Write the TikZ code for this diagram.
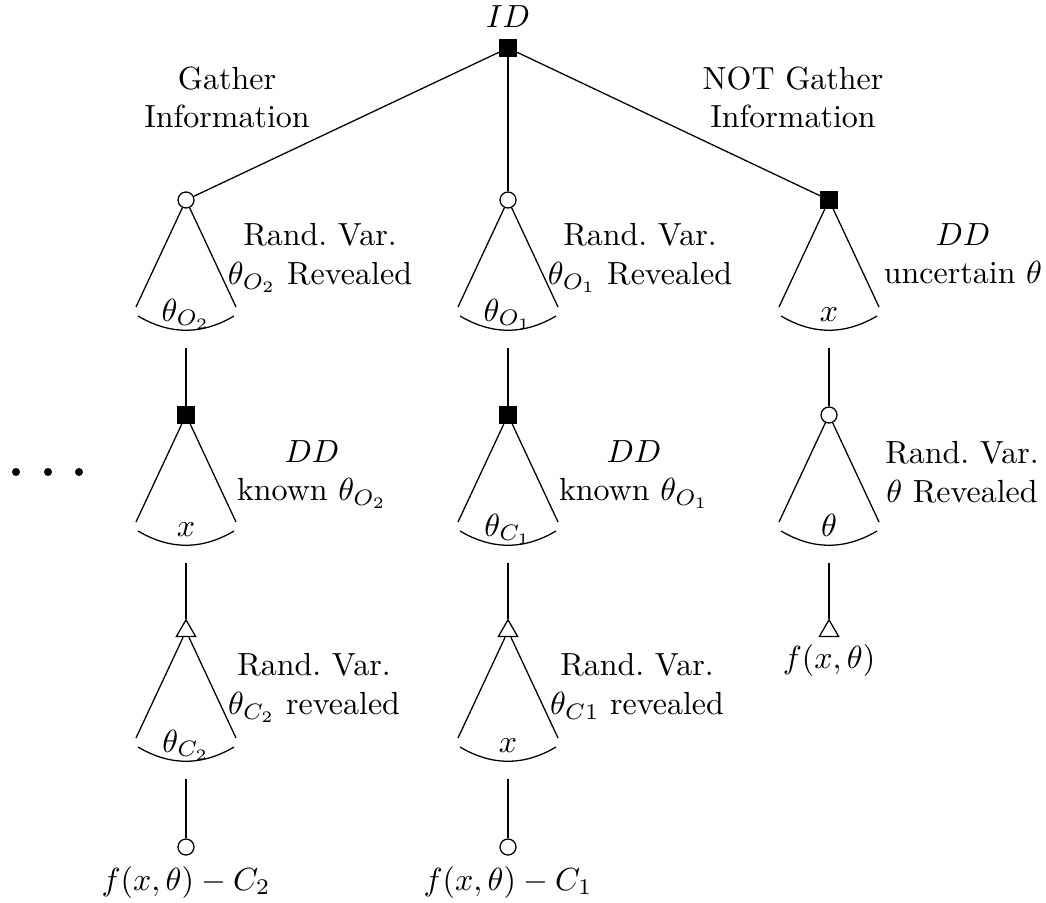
\documentclass[tikz,border=0pt]{standalone}
\usetikzlibrary{shapes.geometric,calc}
\tikzset{
  decn/.style={rectangle,draw,fill=black,minimum size=5.3pt,inner sep=0pt},
  chn/.style={circle,draw,fill=white,minimum size=5pt,inner sep=0pt},
  termn/.style={regular polygon,regular polygon sides=3,draw,fill=white,minimum size=7pt,inner sep=0pt},
  txt/.style={align=center,inner sep=0pt,anchor=north},
  btxt/.style={inner sep=0pt,anchor=base},
  dotm/.style={fill=black},
}
\newcommand\myfan[2]{%
  \coordinate (#1-l) at ($(#1.center)+(-50,107)$);
  \coordinate (#1-r) at ($(#1.center)+(50,107)$);
  \coordinate (#1-al) at ($(#1.center)+(-48,116)$);
  \coordinate (#1-ar) at ($(#1.center)+(48,116)$);
  \coordinate (#1-s) at ($(#1.center)+(0,148)$);
  \draw (#1) -- (#1-l);
  \draw (#1) -- (#1-r);
  \draw (#1-al) .. controls ($(#1.center)+(-16,135)$) and ($(#1.center)+(16,135)$) .. (#1-ar);
  \node[btxt] (#1-t) at ($(#1.center)+(0,121)$) {#2};
}
\begin{document}
\begin{tikzpicture}[x=0.3125pt,y=-0.3125pt]
\path[use as bounding box] (0,0) rectangle (1046,902);

% nodes
\node[decn] (root) at (508,48) {};
\node[btxt] (idl) at (508,28) {$ID$};

\node[chn] (a1) at (186,200) {};
\node[chn] (b1) at (508,200) {};
\node[decn] (c1) at (829,200) {};

\node[decn] (a2) at (186,415) {};
\node[decn] (b2) at (508,415) {};
\node[chn] (c2) at (829,415) {};

\node[termn] (a3) at (186,631) {};
\node[termn] (b3) at (508,631) {};
\node[termn] (c3) at (829,631) {};

\node[chn] (a4) at (186,847) {};
\node[chn] (b4) at (508,847) {};

% root edges
\draw (root) -- (a1);
\draw (root) -- (b1);
\draw (root) -- (c1);

% fans
\myfan{a1}{$\theta_{O_2}$}
\myfan{b1}{$\theta_{O_1}$}
\myfan{c1}{$x$}
\myfan{a2}{$x$}
\myfan{b2}{$\theta_{C_1}$}
\myfan{c2}{$\theta$}
\myfan{a3}{$\theta_{C_2}$}
\myfan{b3}{$x$}

% vertical links
\draw (a1-s) -- (a2);
\draw (b1-s) -- (b2);
\draw (c1-s) -- (c2);
\draw (a2-s) -- (a3);
\draw (b2-s) -- (b3);
\draw (c2-s) -- (c3);
\draw (a3-s) -- (a4);
\draw (b3-s) -- (b4);

% labels
\node[txt] (g1) at (227,66) {Gather\\Information};
\node[txt] (g2) at (793,66) {NOT Gather\\Information};

\node[txt] (la1) at (320,223) {Rand.~Var.\\$\theta_{O_2}$ Revealed};
\node[txt] (lb1) at (640,223) {Rand.~Var.\\$\theta_{O_1}$ Revealed};
\node[txt] (lc1) at (963,223) {$DD$\\uncertain $\theta$};

\node[txt] (la2) at (312,440) {$DD$\\known $\theta_{O_2}$};
\node[txt] (lb2) at (634,440) {$DD$\\known $\theta_{O_1}$};
\node[txt] (lc2) at (962,441) {Rand.~Var.\\$\theta$ Revealed};

\node[txt] (la3) at (314,653) {Rand.~Var.\\$\theta_{C_2}$ revealed};
\node[txt] (lb3) at (637,653) {Rand.~Var.\\$\theta_{C1}$ revealed};

\node[btxt] (fa) at (186,890) {$f(x,\theta)-C_2$};
\node[btxt] (fb) at (508,890) {$f(x,\theta)-C_1$};
\node[btxt] (fc) at (829,668) {$f(x,\theta)$};

% ellipsis dots
\fill[dotm] (16,472) circle[radius=4];
\fill[dotm] (48,472) circle[radius=4];
\fill[dotm] (79,472) circle[radius=4];
\end{tikzpicture}
\end{document}
